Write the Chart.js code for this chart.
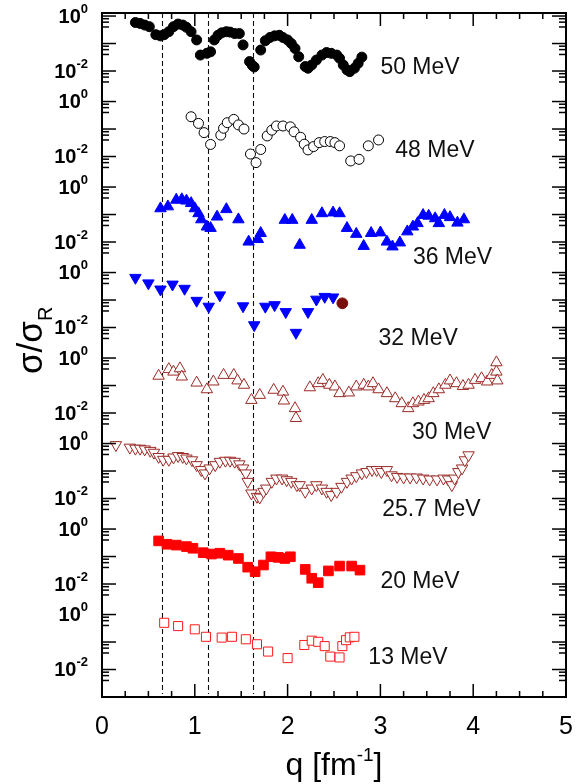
<!DOCTYPE html>
<html>
<head>
<meta charset="utf-8">
<script src="https://cdn.jsdelivr.net/npm/chart.js@4.4.1/dist/chart.umd.min.js"></script>
<style>
  html, body { margin: 0; padding: 0; background: #fff; }
  #wrap { width: 578px; height: 784px; }
</style>
</head>
<body>
<div id="wrap"><canvas id="chart"></canvas></div>
<script>
// [q (fm^-1), sigma/sigma_R], one panel per energy
const energies = ['50 MeV', '48 MeV', '36 MeV', '32 MeV', '30 MeV', '25.7 MeV', '20 MeV', '13 MeV'];

const d50 = [[0.36,0.58],[0.41,0.54],[0.46,0.47],[0.51,0.41],[0.58,0.21],[0.63,0.19],[0.67,0.21],[0.72,0.27],
  [0.77,0.41],[0.82,0.51],[0.87,0.47],[0.91,0.39],[0.96,0.27],[1.02,0.135],[1.06,0.038],[1.13,0.044],
  [1.17,0.050],[1.21,0.135],[1.25,0.20],[1.29,0.245],[1.34,0.27],[1.38,0.26],[1.43,0.23],[1.48,0.23],
  [1.52,0.089],[1.59,0.022],[1.62,0.016],[1.64,0.014],[1.71,0.058],[1.76,0.126],[1.81,0.166],[1.86,0.19],
  [1.91,0.20],[1.95,0.166],[2.0,0.135],[2.04,0.10],[2.08,0.066],[2.12,0.033],[2.19,0.0145],[2.22,0.0126],
  [2.26,0.0166],[2.31,0.025],[2.37,0.038],[2.42,0.047],[2.47,0.044],[2.53,0.038],[2.56,0.029],[2.60,0.0166],
  [2.64,0.011],[2.67,0.0095],[2.72,0.0126],[2.76,0.019],[2.80,0.032]];

const d48 = [[0.96,0.28],[1.04,0.16],[1.10,0.074],[1.17,0.0275],[1.28,0.060],[1.31,0.107],[1.35,0.17],
  [1.42,0.224],[1.47,0.141],[1.53,0.10],[1.60,0.0123],[1.66,0.006],[1.71,0.018],[1.78,0.056],[1.83,0.091],
  [1.88,0.129],[1.95,0.129],[2.03,0.12],[2.07,0.079],[2.14,0.050],[2.18,0.028],[2.22,0.0174],[2.28,0.023],
  [2.34,0.032],[2.40,0.035],[2.46,0.035],[2.51,0.032],[2.56,0.0245],[2.68,0.0069],[2.77,0.0079],
  [2.87,0.0245],[2.98,0.040]];

const d36 = [[0.63,0.166],[0.71,0.195],[0.80,0.34],[0.86,0.355],[0.91,0.316],[0.96,0.257],[1.0,0.166],
  [1.04,0.11],[1.07,0.066],[1.13,0.036],[1.17,0.032],[1.24,0.083],[1.34,0.155],[1.47,0.066],[1.58,0.0102],
  [1.68,0.0126],[1.71,0.021],[1.97,0.063],[2.05,0.063],[2.13,0.0078],[2.26,0.063],[2.37,0.11],[2.49,0.117],
  [2.56,0.11],[2.64,0.032],[2.74,0.0195],[2.82,0.0071],[2.90,0.021],[3.0,0.022],[3.07,0.0102],[3.13,0.0068],
  [3.21,0.0095],[3.29,0.024],[3.35,0.036],[3.40,0.048],[3.46,0.095],[3.52,0.089],[3.59,0.072],[3.63,0.048],
  [3.69,0.095],[3.75,0.079],[3.83,0.050],[3.90,0.066]];

const d32 = [[0.36,0.65],[0.50,0.41],[0.63,0.245],[0.76,0.37],[0.89,0.26],[1.02,0.095],[1.15,0.058],
  [1.27,0.15],[1.52,0.060],[1.64,0.0123],[1.76,0.058],[1.86,0.066],[1.98,0.037],[2.09,0.0065],[2.22,0.037],
  [2.31,0.105],[2.40,0.132],[2.49,0.126]];
const d32extra = [[2.59,0.076]];

const d30 = [[0.61,0.224],[0.72,0.39],[0.77,0.316],[0.84,0.417],[0.86,0.209],[1.02,0.126],[1.13,0.072],
  [1.20,0.138],[1.31,0.24],[1.42,0.24],[1.46,0.151],[1.53,0.105],[1.61,0.0295],[1.70,0.045],[1.85,0.069],
  [1.95,0.059],[1.96,0.028],[2.08,0.0148],[2.09,0.0065],[2.24,0.085],[2.33,0.12],[2.38,0.158],[2.45,0.105],
  [2.51,0.091],[2.56,0.052],[2.66,0.055],[2.74,0.091],[2.82,0.105],[2.87,0.091],[2.92,0.12],[2.98,0.072],
  [3.07,0.052],[3.16,0.034],[3.23,0.0224],[3.30,0.0148],[3.35,0.0224],[3.41,0.0257],[3.47,0.0295],
  [3.52,0.034],[3.57,0.052],[3.63,0.072],[3.70,0.105],[3.75,0.151],[3.82,0.12],[3.89,0.095],[3.95,0.105],
  [4.02,0.158],[4.09,0.182],[4.15,0.138],[4.20,0.24],[4.25,0.316],[4.26,0.151],[4.25,0.69]];

const d25 = [[0.15,0.89],[0.30,0.72],[0.36,0.66],[0.41,0.66],[0.46,0.62],[0.52,0.55],[0.56,0.47],[0.61,0.33],
  [0.66,0.26],[0.72,0.26],[0.77,0.316],[0.82,0.355],[0.87,0.33],[0.91,0.29],[0.97,0.25],[1.02,0.166],
  [1.07,0.11],[1.11,0.083],[1.16,0.126],[1.22,0.166],[1.27,0.22],[1.33,0.24],[1.38,0.24],[1.43,0.22],
  [1.48,0.178],[1.52,0.126],[1.55,0.083],[1.57,0.041],[1.61,0.0155],[1.67,0.0117],[1.70,0.011],[1.74,0.0178],
  [1.77,0.0234],[1.83,0.041],[1.88,0.054],[1.94,0.054],[1.99,0.047],[2.04,0.041],[2.10,0.031],[2.13,0.031],
  [2.19,0.0178],[2.26,0.0234],[2.31,0.031],[2.37,0.0234],[2.42,0.0178],[2.47,0.0135],[2.53,0.0178],
  [2.58,0.027],[2.64,0.041],[2.69,0.054],[2.74,0.066],[2.80,0.083],[2.85,0.093],[2.91,0.11],[2.96,0.11],
  [3.01,0.093],[3.07,0.11],[3.12,0.071],[3.18,0.062],[3.25,0.059],[3.32,0.059],[3.39,0.059],[3.46,0.054],
  [3.53,0.050],[3.61,0.050],[3.68,0.054],[3.73,0.050],[3.77,0.031],[3.80,0.054],[3.84,0.093],[3.88,0.126],
  [3.91,0.25],[3.95,0.38]];

const d20 = [[0.61,0.37],[0.70,0.28],[0.80,0.26],[0.91,0.23],[0.98,0.20],[1.09,0.138],[1.18,0.123],
  [1.27,0.132],[1.36,0.112],[1.47,0.085],[1.57,0.041],[1.65,0.028],[1.74,0.049],[1.82,0.098],[1.90,0.093],
  [1.97,0.085],[2.03,0.098],[2.19,0.034],[2.26,0.0162],[2.33,0.0112],[2.44,0.030],[2.56,0.045],[2.69,0.045],
  [2.78,0.032]];

const d13 = [[0.67,0.50],[0.82,0.38],[1.0,0.29],[1.12,0.155],[1.29,0.145],[1.40,0.155],[1.55,0.126],
  [1.67,0.083],[1.79,0.045],[2.00,0.026],[2.18,0.078],[2.26,0.112],[2.33,0.102],[2.40,0.071],[2.46,0.0295],
  [2.56,0.0275],[2.59,0.071],[2.63,0.117],[2.67,0.148],[2.72,0.155]];

// where the energy labels sit, in each panel's own units
const labelQ = [3.0, 3.16, 3.35, 2.98, 3.34, 3.02, 3.0, 2.87];
const labelS = [0.013, 0.017, 0.0028, 0.0038, 0.0019, 0.0038, 0.012, 0.026];

// dashed lines through the minima
const dipQ = [0.645, 1.14, 1.63];

const xTickVals = [0, 1, 2, 3, 4, 5];
const yTickVals = [1, 0.01];
const yTickExp = ['0', '-2'];

const FONT = "'Liberation Sans', Arial, sans-serif";
const DARKRED = '#9a2a26';

function pts(d) { return d.map(p => ({ x: p[0], y: p[1] })); }

function series(data, panel, style) {
  return Object.assign({
    data: pts(data),
    yAxisID: 'y' + panel,
    showLine: false,
    clip: false,
    pointBorderWidth: 1
  }, style);
}

const datasets = [
  series(d50, 0, { pointStyle: 'circle', pointRadius: 5, pointBackgroundColor: '#000', pointBorderColor: '#000' }),
  series(d48, 1, { pointStyle: 'circle', pointRadius: 5, pointBackgroundColor: '#fff', pointBorderColor: '#000' }),
  series(d36, 2, { pointStyle: 'triangle', pointRadius: 6.6, pointBackgroundColor: '#0000ff', pointBorderColor: '#0000ff' }),
  series(d32, 3, { pointStyle: 'triangle', pointRotation: 180, pointRadius: 6.6, pointBackgroundColor: '#0000ff', pointBorderColor: '#0000ff' }),
  series(d32extra, 3, { pointStyle: 'circle', pointRadius: 5.4, pointBackgroundColor: '#7a0c0c', pointBorderColor: '#7a0c0c' }),
  series(d30, 4, { pointStyle: 'triangle', pointRadius: 6.6, pointBackgroundColor: '#fff', pointBorderColor: DARKRED }),
  series(d25, 5, { pointStyle: 'triangle', pointRotation: 180, pointRadius: 6.6, pointBackgroundColor: '#fff', pointBorderColor: DARKRED }),
  series(d20, 6, { pointStyle: 'rect', pointRadius: 6.8, pointBackgroundColor: '#ff0000', pointBorderColor: '#ff0000' }),
  series(d13, 7, { pointStyle: 'rect', pointRadius: 6.4, pointBackgroundColor: '#fff', pointBorderColor: '#ff1a1a' })
];

const scales = {
  x: {
    type: 'linear',
    min: 0,
    max: 5,
    ticks: { display: false },
    grid: { display: false, drawTicks: false },
    border: { display: false }
  }
};
// eight stacked log panels, top one first
for (let p = 0; p < 8; p++) {
  scales['y' + p] = {
    type: 'logarithmic',
    position: 'left',
    stack: 'panels',
    stackWeight: 1,
    weight: 8 - p,
    min: 0.001,
    max: 1.29,
    ticks: { display: false },
    grid: { display: false, drawTicks: false },
    border: { display: false },
    afterFit: (s) => { s.width = 102; }
  };
}

function line(ctx, x1, y1, x2, y2) {
  ctx.beginPath();
  ctx.moveTo(x1, y1);
  ctx.lineTo(x2, y2);
  ctx.stroke();
}

const framePlugin = {
  id: 'frame',
  beforeDatasetsDraw(chart) {
    const { ctx, chartArea: a, scales } = chart;
    ctx.save();
    ctx.strokeStyle = '#111';
    ctx.lineWidth = 1.1;
    ctx.setLineDash([5, 3]);
    dipQ.forEach(q => {
      const x = Math.round(scales.x.getPixelForValue(q)) + 0.5;
      line(ctx, x, a.top, x, a.bottom - 3);
    });
    ctx.restore();
  },
  afterDraw(chart) {
    const { ctx, chartArea: a, scales } = chart;
    ctx.save();
    ctx.strokeStyle = '#000';
    ctx.fillStyle = '#000';

    // x ticks, inward on top and bottom
    ctx.lineWidth = 1.5;
    for (let i = 0; i <= 20; i++) {
      const x = scales.x.getPixelForValue(i / 4);
      const len = i % 4 === 0 ? 13 : 6;
      line(ctx, x, a.bottom, x, a.bottom - len);
      line(ctx, x, a.top, x, a.top + len);
    }

    // x tick labels
    ctx.font = '25px ' + FONT;
    ctx.textAlign = 'center';
    ctx.textBaseline = 'middle';
    xTickVals.forEach(v => {
      ctx.fillText(String(v), scales.x.getPixelForValue(v), a.bottom + 30);
    });

    // y ticks, inward on left and right, for every panel
    for (let p = 0; p < 8; p++) {
      const s = scales['y' + p];
      [1, 0.1, 0.01].forEach(dec => {
        [1, 0.8, 0.6, 0.4].forEach((m, j) => {
          const y = s.getPixelForValue(dec * m);
          const len = j === 0 ? 14 : 7;
          line(ctx, a.left, y, a.left + len, y);
          line(ctx, a.right, y, a.right - len, y);
        });
      });

      // 10^0 and 10^-2 labels
      yTickVals.forEach((v, k) => {
        const y = s.getPixelForValue(v);
        ctx.textBaseline = 'middle';
        ctx.textAlign = 'left';
        ctx.font = 'bold 13px ' + FONT;
        const ws = ctx.measureText(yTickExp[k]).width;
        ctx.font = 'bold 20px ' + FONT;
        const wb = ctx.measureText('10').width;
        const right = a.left - 14;
        ctx.fillText('10', right - ws - wb, y + 1);
        ctx.font = 'bold 13px ' + FONT;
        ctx.fillText(yTickExp[k], right - ws, y - 7);
      });

      // energy label
      ctx.font = '23px ' + FONT;
      ctx.textAlign = 'left';
      ctx.textBaseline = 'middle';
      ctx.fillStyle = '#111';
      ctx.fillText(energies[p], scales.x.getPixelForValue(labelQ[p]), s.getPixelForValue(labelS[p]));
      ctx.fillStyle = '#000';
    }

    // frame
    ctx.lineWidth = 2;
    ctx.strokeRect(a.left, a.top, a.right - a.left, a.bottom - a.top);

    // x title: q [fm^-1]
    ctx.textBaseline = 'alphabetic';
    ctx.textAlign = 'left';
    const mid = (a.left + a.right) / 2;
    ctx.font = '32px ' + FONT;
    const w1 = ctx.measureText('q [fm').width;
    const w3 = ctx.measureText(']').width;
    ctx.font = '19px ' + FONT;
    const w2 = ctx.measureText('-1').width;
    let x0 = mid - (w1 + w2 + w3) / 2;
    ctx.font = '32px ' + FONT;
    ctx.fillText('q [fm', x0, 775);
    ctx.font = '19px ' + FONT;
    ctx.fillText('-1', x0 + w1, 761);
    ctx.font = '32px ' + FONT;
    ctx.fillText(']', x0 + w1 + w2, 775);

    // y title: sigma / sigma_R, rotated
    ctx.translate(42, 374);
    ctx.rotate(-Math.PI / 2);
    ctx.font = '35px ' + FONT;
    ctx.fillText('σ/σ', 0, 0);
    const ws = ctx.measureText('σ/σ').width;
    ctx.font = '20px ' + FONT;
    ctx.fillText('R', ws, 10);
    ctx.restore();
  }
};

new Chart(document.getElementById('chart'), {
  type: 'scatter',
  data: { datasets },
  options: {
    responsive: true,
    maintainAspectRatio: false,
    animation: false,
    events: [],
    layout: { padding: { top: 13, right: 12, bottom: 87, left: 0 } },
    plugins: { legend: { display: false }, tooltip: { enabled: false } },
    scales
  },
  plugins: [framePlugin]
});
</script>
</body>
</html>
